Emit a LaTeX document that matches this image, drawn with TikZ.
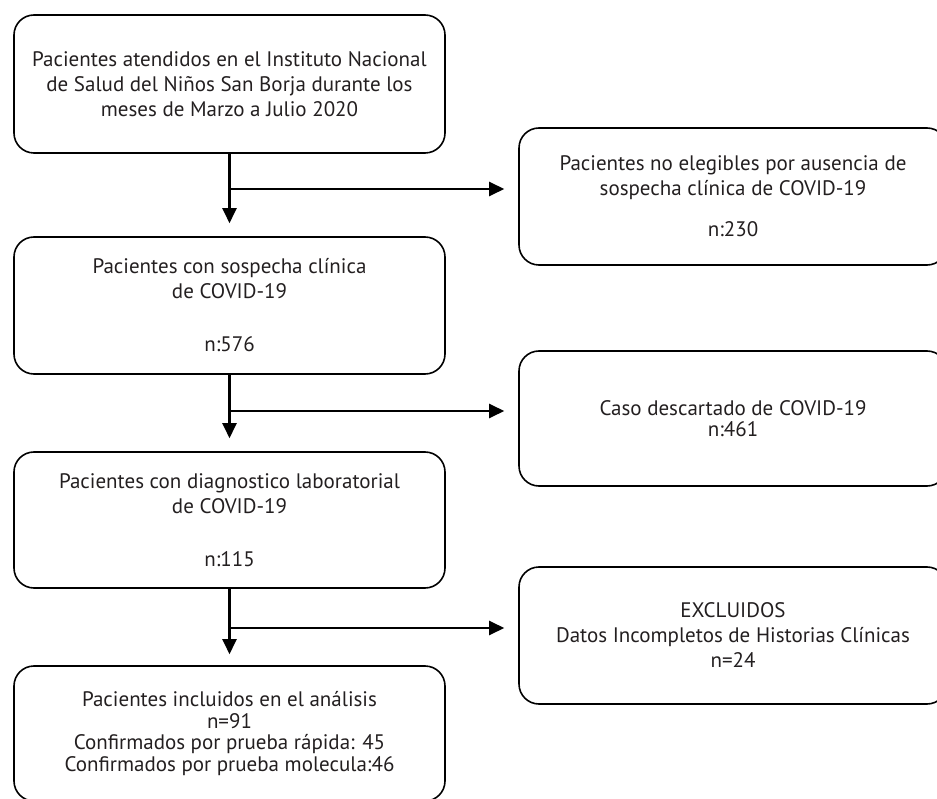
\documentclass[tikz,border=0pt]{standalone}
\usepackage{fontspec}
\setmainfont{PT Sans}
\usetikzlibrary{arrows.meta}
\definecolor{inktext}{RGB}{35,31,32}
\begin{document}
\begin{tikzpicture}[x=1pt,y=-1pt,>={Triangle[length=15pt,width=14pt]},
	caja/.style={draw=black,line width=1.6pt,rounded corners=20pt,align=center,
		text=inktext,font=\fontsize{21}{25}\selectfont,inner sep=0pt},
	cajaizq/.style={caja,minimum width=431pt},
	cajader/.style={caja,minimum width=428pt},
	flecha/.style={line width=2.4pt,->}]
	\useasboundingbox (0,0) rectangle (937,799);
	\clip (0,0) rectangle (937,799);
	% columna izquierda
	\node[cajaizq,minimum height=138pt] (atend) at (229.5,84) {Pacientes atendidos en el Instituto Nacional\\de Salud del Niños San Borja durante los\\meses de Marzo a Julio 2020};
	\node[cajaizq,minimum height=137pt] (sosp) at (229.5,305.5) {Pacientes con sospecha clínica\\de COVID-19\\[28pt]n:576};
	\node[cajaizq,minimum height=136pt] (diag) at (229.5,520) {Pacientes con diagnostico laboratorial\\de COVID-19\\[28pt]n:115};
	\node[cajaizq,minimum height=135pt,font=\fontsize{21}{21.5}\selectfont] (incl) at (229.5,733.5) {Pacientes incluidos en el análisis\\n=91\\Confirmados por prueba rápida: 45\\Confirmados por prueba molecula:46};
	% columna derecha
	\node[cajader,minimum height=137pt] (noeleg) at (733,196.5) {Pacientes no elegibles por ausencia de\\sospecha clínica de COVID-19\\[16pt]n:230};
	\node[cajader,minimum height=135pt,font=\fontsize{21}{21.5}\selectfont] (descart) at (733,418.5) {Caso descartado de COVID-19\\n:461};
	\node[cajader,minimum height=137pt] (exclu) at (733,635.5) {EXCLUIDOS\\Datos Incompletos de Historias Clínicas\\n=24};
	% flechas
	\draw[flecha,shorten >=13pt] (atend.south) -- (sosp.north);
	\draw[flecha,shorten >=13pt] (sosp.south) -- (diag.north);
	\draw[flecha,shorten >=11pt] (diag.south) -- (incl.north);
	\coordinate (b1) at (229.5,189);
	\coordinate (b2) at (229.5,411);
	\coordinate (b3) at (229.5,628);
	\draw[flecha,shorten >=14pt] (b1) -- (b1 -| noeleg.west);
	\draw[flecha,shorten >=14pt] (b2) -- (b2 -| descart.west);
	\draw[flecha,shorten >=14pt] (b3) -- (b3 -| exclu.west);
\end{tikzpicture}
\end{document}
